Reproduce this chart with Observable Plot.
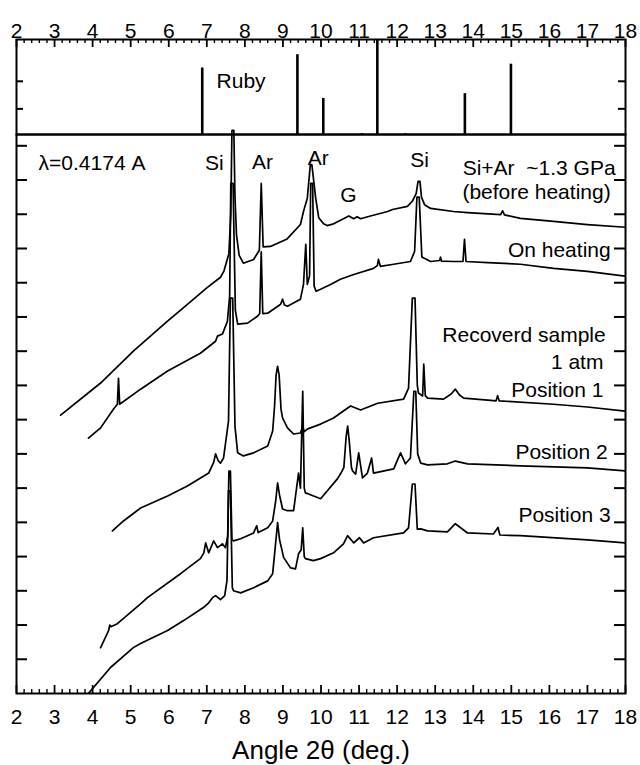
<!DOCTYPE html>
<html><head><meta charset="utf-8">
<script src="https://cdn.jsdelivr.net/npm/d3@7"></script>
<script src="https://cdn.jsdelivr.net/npm/@observablehq/plot@0.6"></script>
<style>
body{margin:0;background:#fff;}
#chart{position:relative;width:640px;height:765px;font-family:"Liberation Sans",Arial,sans-serif;}
#chart svg{position:absolute;left:0;overflow:visible;background:none;}
</style></head><body><div id="chart"></div>
<script>
// ---- data ----
const rubyAngles = [6.88, 9.38, 10.06, 11.08, 11.48, 12.22, 13.78, 14.99];
const rubyIntensity = [70, 84, 38, 1, 100, 1, 43, 74];
const rubyTicks = [27, 56];

const beforeHeating = [[3.16,8.13],[4.21,9.07],[5.07,10.0],[5.96,10.87],[6.49,11.37],[7.0,11.85],[7.36,12.16],[7.45,12.34],[7.58,12.85],[7.63,14.0],[7.66,16.45],[7.71,16.45],[7.74,14.5],[7.78,13.4],[7.85,12.8],[7.96,12.57],[8.23,12.68],[8.38,12.95],[8.43,14.9],[8.48,13.05],[8.67,13.06],[9.11,13.28],[9.46,13.7],[9.54,14.08],[9.64,14.47],[9.72,15.45],[9.76,15.45],[9.86,14.47],[9.94,13.9],[10.07,13.72],[10.16,13.67],[10.33,13.72],[10.59,13.87],[10.73,13.95],[10.86,13.87],[10.95,13.93],[11.04,13.87],[11.3,13.95],[11.75,14.08],[11.88,14.14],[12.27,14.23],[12.40,14.38],[12.50,14.6],[12.55,14.96],[12.60,14.96],[12.64,14.5],[12.72,14.28],[12.88,14.17],[13.48,14.08],[13.85,14.05],[14.72,13.99],[14.77,14.10],[14.82,13.98],[15.24,13.88],[16.11,13.79],[17.0,13.70],[18.0,13.62]];

const onHeating = [[3.89,7.46],[4.21,7.76],[4.55,8.31],[4.65,8.45],[4.68,9.21],[4.71,8.45],[5.26,8.89],[5.97,9.42],[6.83,9.94],[7.23,10.29],[7.28,10.44],[7.41,10.50],[7.54,10.87],[7.60,11.6],[7.63,14.9],[7.69,14.9],[7.75,11.2],[7.81,10.79],[8.07,10.82],[8.33,11.02],[8.39,11.1],[8.43,12.9],[8.47,11.1],[8.60,11.11],[8.94,11.37],[8.99,11.52],[9.04,11.35],[9.12,11.31],[9.46,11.52],[9.54,11.95],[9.60,13.12],[9.64,11.95],[9.70,12.2],[9.73,14.9],[9.78,14.9],[9.82,11.9],[9.87,11.75],[9.99,11.81],[10.25,11.95],[10.51,12.10],[10.86,12.24],[11.38,12.42],[11.48,12.50],[11.51,12.68],[11.56,12.48],[11.91,12.54],[12.35,12.62],[12.46,12.92],[12.52,14.5],[12.58,14.5],[12.65,12.75],[12.88,12.62],[13.12,12.65],[13.14,12.75],[13.17,12.63],[13.48,12.62],[13.73,12.62],[13.77,13.27],[13.81,12.62],[14.38,12.59],[15.24,12.54],[16.11,12.42],[17.0,12.33],[18.0,12.19]];

const position1 = [[4.52,4.75],[4.81,5.04],[5.26,5.42],[5.97,5.77],[6.49,6.06],[7.05,6.44],[7.18,6.75],[7.23,7.0],[7.30,6.8],[7.36,6.73],[7.44,6.88],[7.57,7.96],[7.62,11.55],[7.68,11.55],[7.74,7.8],[7.81,7.03],[7.96,6.94],[8.23,7.03],[8.60,7.23],[8.73,7.67],[8.78,8.4],[8.82,9.3],[8.86,9.56],[8.90,9.3],[8.95,8.3],[8.99,8.05],[9.12,7.76],[9.28,7.58],[9.46,7.61],[9.52,7.8],[9.56,7.65],[9.65,7.73],[9.99,7.87],[10.33,8.05],[10.70,8.34],[10.78,8.40],[11.04,8.28],[11.49,8.48],[12.17,8.60],[12.30,8.92],[12.40,11.55],[12.47,11.55],[12.53,9.0],[12.56,8.78],[12.67,8.69],[12.70,9.62],[12.74,8.7],[12.80,8.63],[13.22,8.60],[13.42,8.75],[13.53,8.89],[13.64,8.72],[13.75,8.63],[14.38,8.57],[14.60,8.55],[14.64,8.70],[14.68,8.55],[16.11,8.45],[17.0,8.37],[18.0,8.25]];

const position2 = [[4.21,1.34],[4.42,1.84],[4.45,2.0],[4.48,1.95],[4.65,2.04],[5.26,2.62],[5.44,2.80],[6.31,3.50],[6.83,3.94],[6.92,4.1],[6.97,4.40],[7.05,4.11],[7.18,4.46],[7.28,4.26],[7.41,4.37],[7.49,4.26],[7.55,4.6],[7.58,6.5],[7.62,6.5],[7.66,4.5],[7.70,4.46],[7.89,4.52],[8.23,4.69],[8.31,4.90],[8.35,4.70],[8.60,4.84],[8.73,5.04],[8.81,5.63],[8.86,6.15],[8.91,5.8],[8.99,5.39],[9.12,5.34],[9.28,5.34],[9.41,6.44],[9.46,6.0],[9.52,8.83],[9.56,6.0],[9.59,5.86],[9.67,5.83],[9.99,5.69],[10.43,6.27],[10.51,6.41],[10.60,6.6],[10.66,7.5],[10.70,7.81],[10.74,7.4],[10.80,6.6],[10.83,6.50],[10.91,6.41],[10.99,7.03],[11.09,6.30],[11.22,6.44],[11.33,6.88],[11.38,6.44],[11.91,6.56],[12.09,7.03],[12.22,6.71],[12.35,6.88],[12.44,8.83],[12.49,8.83],[12.54,7.0],[12.62,6.73],[12.80,6.68],[13.32,6.71],[13.53,6.79],[13.85,6.71],[15.24,6.65],[17.0,6.59],[18.0,6.50]];

const position3 = [[3.85,-0.05],[4.47,0.76],[5.07,1.34],[5.26,1.46],[5.97,1.84],[6.39,2.13],[6.91,2.51],[7.05,2.65],[7.15,2.80],[7.23,2.86],[7.36,2.74],[7.47,2.86],[7.53,3.3],[7.57,5.92],[7.62,5.92],[7.67,3.1],[7.70,3.00],[7.89,2.94],[8.23,3.09],[8.60,3.29],[8.73,3.50],[8.80,4.3],[8.86,4.99],[8.91,4.5],[9.02,3.97],[9.20,3.67],[9.33,3.64],[9.41,4.08],[9.48,4.2],[9.52,4.84],[9.56,4.0],[9.59,3.94],[9.80,3.88],[9.99,3.94],[10.33,4.11],[10.59,4.37],[10.70,4.61],[10.86,4.40],[11.01,4.55],[11.12,4.40],[11.38,4.55],[12.17,4.69],[12.30,4.84],[12.40,6.12],[12.47,6.12],[12.53,4.8],[12.62,4.81],[12.80,4.75],[13.32,4.72],[13.53,4.96],[13.85,4.69],[14.53,4.66],[14.65,4.85],[14.70,4.63],[15.24,4.61],[17.0,4.49],[18.0,4.40]];

const xTickLabels = [2,3,4,5,6,7,8,9,10,11,12,13,14,15,16,17,18];
const yTicks = [1,2,3,4,5,6,7,8,9,10,11,12,13,14,15,16];

const labelText = ["λ=0.4174 A","Si","Ar","Ar","G","Si","Si+Ar  ~1.3 GPa","(before heating)","On heating","Recoverd sample","1 atm","Position 1","Position 2","Position 3"];
const labelX    = [2.58, 7.2, 8.46, 9.93, 10.72, 12.59, 17.74, 17.61, 17.61, 17.48, 17.42, 17.42, 17.53, 17.61];
const labelY    = [15.48, 15.48, 15.51, 15.63, 14.55, 15.57, 15.33, 14.63, 12.94, 10.46, 9.67, 8.85, 7.04, 5.20];
const labelAnchor = ["start","middle","middle","middle","middle","middle","end","end","end","end","end","end","end","end"];

// ---- build ----
const FONT = '"Liberation Sans", Arial, sans-serif';
const W = 640, ML = 16, MR = 15, innerW = W - ML - MR;
const minorX = d3.range(2, 18.0001, 0.2).filter(v => Math.abs(v - Math.round(v)) > 1e-6);
const ruby = rubyAngles.map((a, i) => ({angle: a, intensity: rubyIntensity[i]}));
const traces = [beforeHeating, onHeating, position1, position2, position3];
const labels = labelText.map((t, i) => ({text: t, x: labelX[i], y: labelY[i], anchor: labelAnchor[i]}));

const topH = 134, topMT = 39, topInner = topH - topMT;
const topPlot = Plot.plot({
  width: W, height: topH, marginTop: topMT, marginBottom: 0, marginLeft: ML, marginRight: MR,
  x: {domain: [2, 18], axis: null},
  y: {domain: [0, 100], axis: null},
  style: {fontFamily: FONT, color: "black", background: "none", overflow: "visible"},
  marks: [
    Plot.ruleX(ruby, {x: "angle", y1: 0, y2: "intensity", stroke: "black", strokeWidth: 2.6}),
    Plot.text(["Ruby"], {x: 7.9, y: 56, text: d => d, fontSize: 21, fill: "black"}),
    Plot.ruleX(xTickLabels, {x: d => d, insetBottom: topInner - 8, stroke: "black", strokeWidth: 1.8}),
    Plot.ruleX(minorX, {x: d => d, insetBottom: topInner - 4, stroke: "black", strokeWidth: 1.4}),
    Plot.ruleY(rubyTicks, {y: d => d, insetRight: innerW - 7, stroke: "black", strokeWidth: 2}),
    Plot.ruleY(rubyTicks, {y: d => d, insetLeft: innerW - 7, stroke: "black", strokeWidth: 2}),
    Plot.axisX(xTickLabels, {anchor: "top", tickSize: 0, tickPadding: 2, fontSize: 21, tickFormat: d => d, label: null, fill: "black"}),
    Plot.frame({stroke: "black", strokeWidth: 2})
  ]
});

const botH = 631, botMB = 72, botInner = botH - botMB;
const textMarks = ["start", "middle", "end"].map(a =>
  Plot.text(labels.filter(d => d.anchor === a), {x: "x", y: "y", text: "text", textAnchor: a, fontSize: 21, fill: "black"}));
const botPlot = Plot.plot({
  width: W, height: botH, marginTop: 0, marginBottom: botMB, marginLeft: ML, marginRight: MR,
  x: {domain: [2, 18], axis: null},
  y: {domain: [0, 16.33], axis: null},
  style: {fontFamily: FONT, color: "black", background: "none", overflow: "visible"},
  marks: [
    ...traces.map((t, i) => Plot.line(t, {x: d => d[0], y: d => d[1], stroke: "black", strokeWidth: 1.7, clip: i > 0})),
    ...textMarks,
    Plot.ruleX(xTickLabels, {x: d => d, insetTop: botInner - 8, stroke: "black", strokeWidth: 1.8}),
    Plot.ruleX(minorX, {x: d => d, insetTop: botInner - 4, stroke: "black", strokeWidth: 1.4}),
    Plot.ruleY(yTicks, {y: d => d, insetRight: innerW - 11, stroke: "black", strokeWidth: 2}),
    Plot.ruleY(yTicks, {y: d => d, insetLeft: innerW - 11, stroke: "black", strokeWidth: 2}),
    Plot.axisX(xTickLabels, {anchor: "bottom", tickSize: 0, tickPadding: 16, fontSize: 21, tickFormat: d => d, label: null, fill: "black"}),
    Plot.text(["Angle 2θ (deg.)"], {frameAnchor: "bottom", dy: 57, lineAnchor: "middle", text: d => d, fontSize: 26, fill: "black"}),
    Plot.frame({stroke: "black", strokeWidth: 2})
  ]
});

const chart = document.getElementById("chart");
topPlot.style.top = "0px";
botPlot.style.top = topH + "px";
chart.appendChild(topPlot);
chart.appendChild(botPlot);
</script>
</body></html>
